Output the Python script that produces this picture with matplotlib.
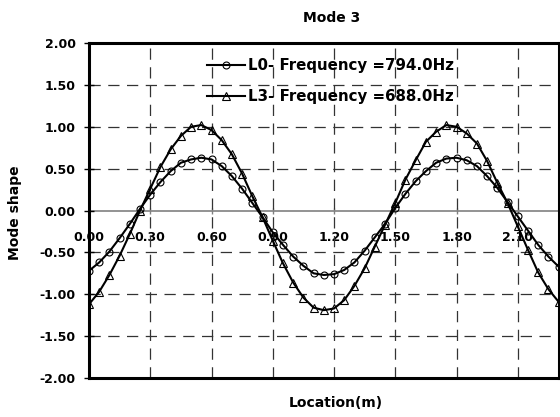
import matplotlib
matplotlib.use("Agg")
import matplotlib.pyplot as plt
from matplotlib.lines import Line2D

# locations along the beam (m)
loc = [0.00, 0.05, 0.10, 0.15, 0.20, 0.25, 0.30, 0.35, 0.40, 0.45,
       0.50, 0.55, 0.60, 0.65, 0.70, 0.75, 0.80, 0.85, 0.90, 0.95,
       1.00, 1.05, 1.10, 1.15, 1.20, 1.25, 1.30, 1.35, 1.40, 1.45,
       1.50, 1.55, 1.60, 1.65, 1.70, 1.75, 1.80, 1.85, 1.90, 1.95,
       2.00, 2.05, 2.10, 2.15, 2.20, 2.25, 2.30]

# mode shape, L0 (794.0 Hz)
l0 = [-0.72, -0.62, -0.49, -0.33, -0.16, 0.02, 0.19, 0.34, 0.47, 0.57,
      0.61, 0.63, 0.61, 0.53, 0.41, 0.26, 0.09, -0.08, -0.26, -0.41,
      -0.55, -0.66, -0.75, -0.77, -0.76, -0.71, -0.62, -0.48, -0.32, -0.16,
      0.03, 0.20, 0.35, 0.47, 0.57, 0.62, 0.63, 0.60, 0.53, 0.41,
      0.27, 0.10, -0.07, -0.24, -0.41, -0.55, -0.67]

# mode shape, L3 (688.0 Hz)
l3 = [-1.12, -0.97, -0.77, -0.54, -0.28, 0.00, 0.26, 0.52, 0.73, 0.89,
      1.00, 1.02, 0.96, 0.84, 0.67, 0.44, 0.17, -0.08, -0.36, -0.63,
      -0.86, -1.04, -1.16, -1.19, -1.17, -1.07, -0.90, -0.69, -0.43, -0.17,
      0.09, 0.37, 0.60, 0.82, 0.94, 1.02, 1.00, 0.92, 0.80, 0.59,
      0.33, 0.09, -0.19, -0.47, -0.74, -0.94, -1.09]

labels = ["L0- Frequency =794.0Hz", "L3- Frequency =688.0Hz"]
xticks = [0.00, 0.30, 0.60, 0.90, 1.20, 1.50, 1.80, 2.10]
yticks = [-2.0, -1.5, -1.0, -0.5, 0.0, 0.5, 1.0, 1.5, 2.0]

W, H = 560, 417
fig = plt.figure(figsize=(W / 100, H / 100), dpi=100)
ax = fig.add_axes([89 / W, 1 - 378 / H, (558.6 - 89) / W, (378 - 43) / H])

ax.set_xlim(0, 2.3)
ax.set_ylim(-2, 2)

grid_kw = dict(color="#333333", lw=0.9, ls=(0, (9, 6)), zorder=1)
for xv in xticks[1:]:
    ax.axvline(xv, **grid_kw)
for yv in yticks[1:-1]:
    if yv != 0:
        ax.axhline(yv, **grid_kw)

ax.plot(loc, l0, color="black", lw=1.5, marker="o", ms=5, mfc="none",
        mec="black", mew=0.8, zorder=3)
ax.plot(loc, l3, color="black", lw=1.5, marker="^", ms=5.5, mfc="none",
        mec="black", mew=0.8, zorder=3)

for s in ax.spines.values():
    s.set_linewidth(2.2)
    s.set_zorder(5)

ax.set_yticks(yticks)
ax.set_yticklabels(["%.2f" % v for v in yticks])
ax.tick_params(axis="y", direction="inout", length=7, width=1, pad=6,
               labelsize=9)
for t in ax.get_yticklabels():
    t.set_fontweight("bold")

ax.set_xticks(xticks)
ax.tick_params(axis="x", length=0, labelbottom=False)

# horizontal axis drawn through y = 0, labels underneath
sec = ax.secondary_xaxis(0.5)
sec.set_alignment("bottom")
sec.set_xticks(xticks)
sec.set_xticklabels(["%.2f" % v for v in xticks])
sec.spines["bottom"].set_color("#808080")
sec.spines["bottom"].set_linewidth(1.2)
sec.tick_params(direction="inout", length=5, width=1, color="#808080",
                pad=12, labelsize=9)
for t in sec.get_xticklabels():
    t.set_fontweight("bold")

handles = [
    Line2D([], [], color="black", lw=1.5, marker="o", ms=5, mfc="none", mew=0.8),
    Line2D([], [], color="black", lw=1.5, marker="^", ms=5.5, mfc="none", mew=0.8),
]
leg = fig.legend(handles, labels, loc="upper left",
                 bbox_to_anchor=(207 / W, 1 - 58 / H), frameon=False,
                 prop=dict(size=10.8, weight="bold"), handlelength=2.5,
                 handletextpad=0.25, labelspacing=1.1, borderpad=0,
                 borderaxespad=0)

fig.text(332 / W, 1 - 18 / H, "Mode 3", ha="center", va="center",
         fontsize=10, fontweight="bold")
fig.text(336 / W, 1 - 403 / H, "Location(m)", ha="center", va="center",
         fontsize=10, fontweight="bold")
fig.text(15 / W, 1 - 213 / H, "Mode shape", ha="center", va="center",
         rotation=90, fontsize=10, fontweight="bold")

fig.savefig("out.png", dpi=100)
